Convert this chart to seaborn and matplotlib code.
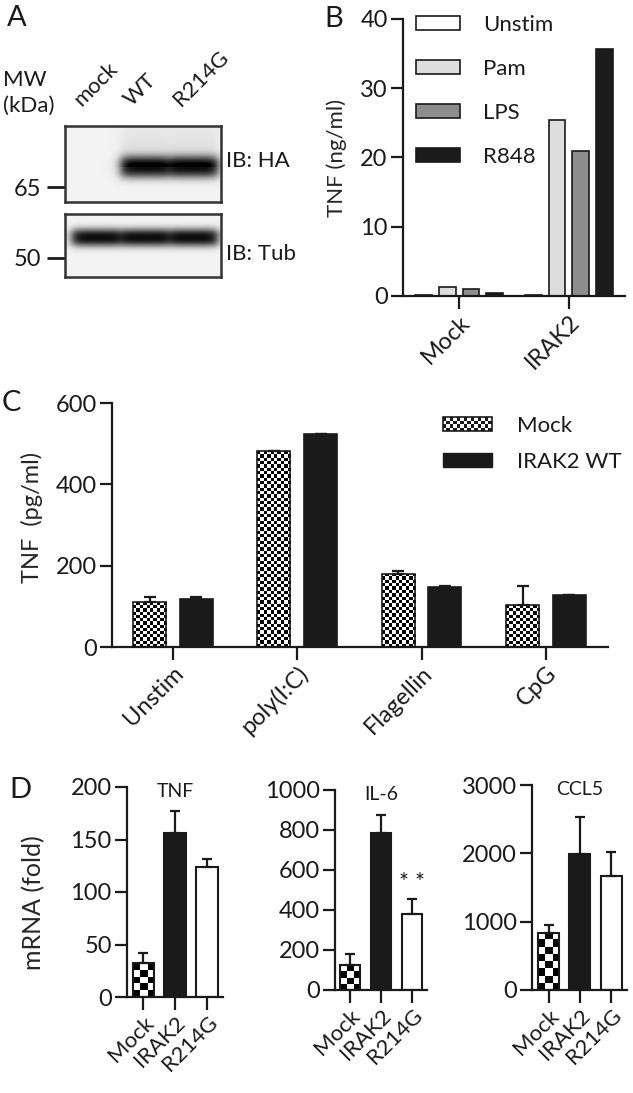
import numpy as np
import pandas as pd
import matplotlib
matplotlib.use("Agg")
import matplotlib.pyplot as plt
import seaborn as sns
from matplotlib.patches import Patch, Rectangle
from matplotlib.legend_handler import HandlerBase
from matplotlib.textpath import TextPath
from matplotlib.font_manager import FontProperties

# ---- data ----
blot_lanes = ["mock", "WT", "R214G"]
blot_ha = [0.0, 1.0, 1.0]          # relative band strength, IB: HA
blot_tub = [1.0, 1.0, 1.0]         # relative band strength, IB: Tub
mw_labels = ["65", "50"]

b_groups = ["Mock", "IRAK2"]
b_stims = ["Unstim", "Pam", "LPS", "R848"]
b_mock = [0.15, 1.3, 1.0, 0.5]
b_irak2 = [0.15, 25.4, 21.0, 35.7]

c_stims = ["Unstim", "poly(I:C)", "Flagellin", "CpG"]
c_series = ["Mock", "IRAK2 WT"]
c_mock = [110, 481, 180, 103]
c_mock_sem = [12, 2, 8, 46]
c_irak2 = [118, 523, 147, 127]
c_irak2_sem = [5, 2, 4, 2]

d_groups = ["Mock", "IRAK2", "R214G"]
d_genes = ["TNF", "IL-6", "CCL5"]
d_tnf = [32, 156, 124]
d_tnf_sem = [10, 21, 7]
d_il6 = [125, 785, 380]
d_il6_sem = [57, 88, 75]
d_ccl5 = [835, 1985, 1670]
d_ccl5_sem = [115, 540, 355]

# ---- style ----
sns.set_style("ticks")
plt.rcParams["font.family"] = ["Lato", "DejaVu Sans"]
plt.rcParams.update({
    "font.size": 16,
    "axes.linewidth": 1.6,
    "axes.edgecolor": "#1a1a1a",
    "xtick.major.size": 9,
    "ytick.major.size": 9,
    "xtick.major.width": 1.6,
    "ytick.major.width": 1.6,
    "xtick.major.pad": 2,
    "ytick.major.pad": 2,
    "xtick.labelsize": 17,
    "ytick.labelsize": 17,
    "xtick.color": "#1a1a1a",
    "ytick.color": "#1a1a1a",
    "text.color": "#1a1a1a",
})

W, H = 633, 1093
fig = plt.figure(figsize=(W / 100, H / 100), dpi=100)


def add_ax(x0, y0, x1, y1):
    """Axes from pixel box (top-left origin)."""
    return fig.add_axes([x0 / W, 1 - y1 / H, (x1 - x0) / W, (y1 - y0) / H])


def fig_text(x, y, s, **kw):
    fig.text(x / W, 1 - y / H, s, **kw)


def checker_fill(ax, bar, sq_px):
    """Replace a bar's face with a black/white checkerboard."""
    x0, y0 = bar.get_x(), bar.get_y()
    w, h = bar.get_width(), bar.get_height()
    p0 = ax.transData.transform((x0, y0))
    p1 = ax.transData.transform((x0 + w, y0 + h))
    ncol = max(1, int(round((p1[0] - p0[0]) / sq_px)))
    nrow = max(1, int(round((p1[1] - p0[1]) / sq_px)))
    grid = np.indices((nrow, ncol)).sum(axis=0) % 2
    im = ax.imshow(grid, cmap="gray", vmin=0, vmax=1, extent=(x0, x0 + w, y0, y0 + h),
                   origin="lower", interpolation="nearest", aspect="auto",
                   zorder=bar.get_zorder() - 0.05)
    im.set_clip_path(bar)
    bar.set_facecolor("none")


def add_sem(ax, bars, sem, capsize):
    xs = [b.get_x() + b.get_width() / 2 for b in bars]
    ys = [b.get_height() for b in bars]
    ax.errorbar(xs, ys, yerr=[np.zeros(len(sem)), sem], fmt="none", ecolor="#1a1a1a",
                elinewidth=1.6, capsize=capsize, capthick=1.6, zorder=4)


class CheckerHandler(HandlerBase):
    def __init__(self, ncol, nrow):
        super().__init__()
        self.ncol, self.nrow = ncol, nrow

    def create_artists(self, legend, orig_handle, xdescent, ydescent, width, height, fontsize, trans):
        arts = [Rectangle((-xdescent, -ydescent), width, height, facecolor="white",
                          edgecolor="none", transform=trans)]
        dw, dh = width / self.ncol, height / self.nrow
        for i in range(self.nrow):
            for j in range(self.ncol):
                if (i + j) % 2:
                    arts.append(Rectangle((-xdescent + j * dw, -ydescent + i * dh), dw, dh,
                                          facecolor="#1a1a1a", edgecolor="none", transform=trans))
        arts.append(Rectangle((-xdescent, -ydescent), width, height, fill=False,
                              edgecolor="#1a1a1a", linewidth=1.2, transform=trans))
        return arts


def render_blot(signal, w_px, h_px, band_y, band_half, smear):
    lane_x = [31, 80, 129]
    xs = np.arange(w_px) + 0.5
    ys = np.arange(h_px) + 0.5
    img = np.full((h_px, w_px), 0.95)
    for c, s in zip(lane_x, signal):
        hx = 1 / (1 + np.exp((np.abs(xs - c) - 24) / 3.0))
        vy = np.exp(-np.abs((ys - band_y) / band_half) ** 2.5)
        img -= 0.9 * s * np.outer(vy, hx)
        if smear:
            above = np.where(ys < band_y, 0.04 + 0.06 * ys / band_y, 0.0)
            img -= s * np.outer(above, hx)
    return np.clip(img, 0, 1)


# ---------------- Panel A: western blot ----------------
ax_ha = add_ax(65, 126, 221, 202)
ax_tub = add_ax(65, 214, 221, 277)
for ax, sig, (h_px, by, bh, sm), mw, mw_y in [
    (ax_ha, blot_ha, (76, 41, 11, True), mw_labels[0], 61),
    (ax_tub, blot_tub, (63, 23.5, 9, False), mw_labels[1], 44),
]:
    ax.imshow(render_blot(sig, 156, h_px, by, bh, sm), cmap="gray", vmin=0, vmax=1,
              extent=(0, 156, h_px, 0), aspect="auto", interpolation="bilinear")
    ax.set_xlim(0, 156)
    ax.set_ylim(h_px, 0)
    ax.set_xticks([])
    ax.set_yticks([mw_y])
    ax.set_yticklabels([mw])
    ax.tick_params(axis="y", length=13, width=2, pad=4)
    for sp in ax.spines.values():
        sp.set_visible(True)
        sp.set_linewidth(1.8)
        sp.set_color("#333333")

ax_ha.text(1.03, 0.54, "IB: HA", transform=ax_ha.transAxes, ha="left", va="center", fontsize=16)
ax_tub.text(1.03, 0.37, "IB: Tub", transform=ax_tub.transAxes, ha="left", va="center", fontsize=16)
for lane_px, name in zip([84, 134, 184], blot_lanes):
    fig_text(lane_px, 110, name, rotation=45, ha="left", va="bottom",
             rotation_mode="anchor", fontsize=16)
fig_text(3, 80, "MW", ha="left", va="center", fontsize=16)
fig_text(3, 106, "(kDa)", ha="left", va="center", fontsize=16)
fig_text(7, 18, "A", ha="left", va="center", fontsize=21)

# ---------------- Panel B: TNF protein ----------------
axB = add_ax(403, 19, 625, 296)
dfB = pd.DataFrame({
    "group": np.repeat(b_groups, len(b_stims)),
    "stim": b_stims * len(b_groups),
    "tnf": b_mock + b_irak2,
})
b_colors = dict(zip(b_stims, ["white", "#dddddd", "#8d8d8d", "#1c1c1c"]))
sns.barplot(data=dfB, x="group", y="tnf", hue="stim", hue_order=b_stims, palette=b_colors,
            saturation=1, width=0.87, gap=0.29, edgecolor="#1a1a1a", linewidth=1.2,
            errorbar=None, legend=False, ax=axB)
axB.set_xlim(-0.51, 1.51)
axB.set_ylim(0, 40)
axB.set_yticks([0, 10, 20, 30, 40])
axB.set_xlabel("")
axB.set_ylabel("TNF (ng/ml)", fontsize=16)
axB.yaxis.set_label_coords(-0.25, 0.5)
axB.set_xticks(range(len(b_groups)))
axB.set_xticklabels(b_groups, rotation=45, ha="right", va="top", rotation_mode="anchor")
b_handles = [Patch(facecolor=b_colors[s], edgecolor="#1a1a1a", linewidth=1.2, label=s) for s in b_stims]
axB.legend(handles=b_handles, loc="upper left", bbox_to_anchor=(0.06, 1.014), frameon=False,
           borderpad=0, borderaxespad=0, handlelength=1.95, handleheight=0.6,
           handletextpad=1.05, labelspacing=1.08, fontsize=16)
sns.despine(ax=axB)
fig_text(324, 19, "B", ha="left", va="center", fontsize=21)

# ---------------- Panel C: TNF, TLR ligands ----------------
axC = add_ax(112, 403, 608, 647)
dfC = pd.DataFrame({
    "stim": c_stims * len(c_series),
    "series": np.repeat(c_series, len(c_stims)),
    "tnf": c_mock + c_irak2,
})
sns.barplot(data=dfC, x="stim", y="tnf", hue="series", hue_order=c_series,
            palette={"Mock": "white", "IRAK2 WT": "#1a1a1a"}, saturation=1,
            width=0.75, gap=0.29, edgecolor="#1a1a1a", linewidth=1.2,
            errorbar=None, legend=False, ax=axC)
axC.set_xlim(-0.49, 3.5)
axC.set_ylim(0, 600)
axC.set_yticks([0, 200, 400, 600])
for bar in axC.containers[0]:
    checker_fill(axC, bar, 3.3)
add_sem(axC, list(axC.containers[0]), c_mock_sem, 4)
add_sem(axC, list(axC.containers[1]), c_irak2_sem, 4)
axC.set_xlim(-0.49, 3.5)
axC.set_ylim(0, 600)
axC.set_xlabel("")
axC.set_ylabel("TNF  (pg/ml)", fontsize=17)
axC.yaxis.set_label_coords(-0.14, 0.53)
axC.set_xticks(range(len(c_stims)))
axC.set_xticklabels(c_stims, rotation=45, ha="right", va="top", rotation_mode="anchor")
c_handles = [Patch(label="Mock"), Patch(facecolor="#1a1a1a", edgecolor="#1a1a1a", label="IRAK2 WT")]
axC.legend(handles=c_handles, handler_map={c_handles[0]: CheckerHandler(14, 4)},
           loc="upper left", bbox_to_anchor=(0.667, 0.947), frameon=False, borderpad=0,
           borderaxespad=0, handlelength=2.2, handleheight=0.6, handletextpad=1.15,
           labelspacing=0.72, fontsize=16)
sns.despine(ax=axC)
fig_text(2, 403, "C", ha="left", va="center", fontsize=21)

# ---------------- Panel D: mRNA ----------------
d_boxes = [(127, 787, 223, 997), (335, 790, 427, 990), (532, 785, 627, 990)]
d_vals = [d_tnf, d_il6, d_ccl5]
d_sems = [d_tnf_sem, d_il6_sem, d_ccl5_sem]
d_ymax = [200, 1000, 3000]
d_yticks = [[0, 50, 100, 150, 200], [0, 200, 400, 600, 800, 1000], [0, 1000, 2000, 3000]]
d_xlim = [(-0.51, 2.5), (-0.48, 2.48), (-0.53, 2.5)]
d_axes = []
for box, gene, vals, sem, ymax, yt, xl in zip(d_boxes, d_genes, d_vals, d_sems, d_ymax, d_yticks, d_xlim):
    ax = add_ax(*box)
    sns.barplot(x=d_groups, y=vals, hue=d_groups, palette=["white", "#1a1a1a", "white"],
                saturation=1, width=0.67, edgecolor="#1a1a1a", linewidth=1.5,
                errorbar=None, legend=False, ax=ax)
    ax.set_xlim(*xl)
    ax.set_ylim(0, ymax)
    bars = [b for c in ax.containers for b in c]
    checker_fill(ax, bars[0], 7)
    add_sem(ax, bars, sem, 3.5)
    ax.set_xlim(*xl)
    ax.set_ylim(0, ymax)
    ax.set_yticks(yt)
    ax.set_xticks(range(len(d_groups)))
    ax.set_xticklabels(d_groups, rotation=45, ha="right", va="top", rotation_mode="anchor",
                       fontsize=16)
    ax.text(0.5, 0.98, gene, transform=ax.transAxes, ha="center", va="center", fontsize=14)
    sns.despine(ax=ax)
    d_axes.append((ax, bars))

# significance mark over R214G in IL-6: ink centre ~24 px above the error cap
ax_il6, bars_il6 = d_axes[1]
r214g = bars_il6[2]
star_size = 17
ext = TextPath((0, 0), "* *", size=star_size, prop=FontProperties(family="Lato")).get_extents()
ink_mid = (ext.y0 + ext.y1) / 2
ax_il6.annotate("* *", (r214g.get_x() + r214g.get_width() / 2, r214g.get_height() + d_il6_sem[2]),
                xytext=(0, 24 * 72 / 100 - ink_mid), textcoords="offset points",
                ha="center", va="baseline", fontsize=star_size)

d_axes[0][0].set_ylabel("mRNA (fold)", fontsize=18)
d_axes[0][0].yaxis.set_label_coords(-0.85, 0.45)
fig_text(9, 790, "D", ha="left", va="center", fontsize=21)

fig.savefig("out.png", dpi=100)
